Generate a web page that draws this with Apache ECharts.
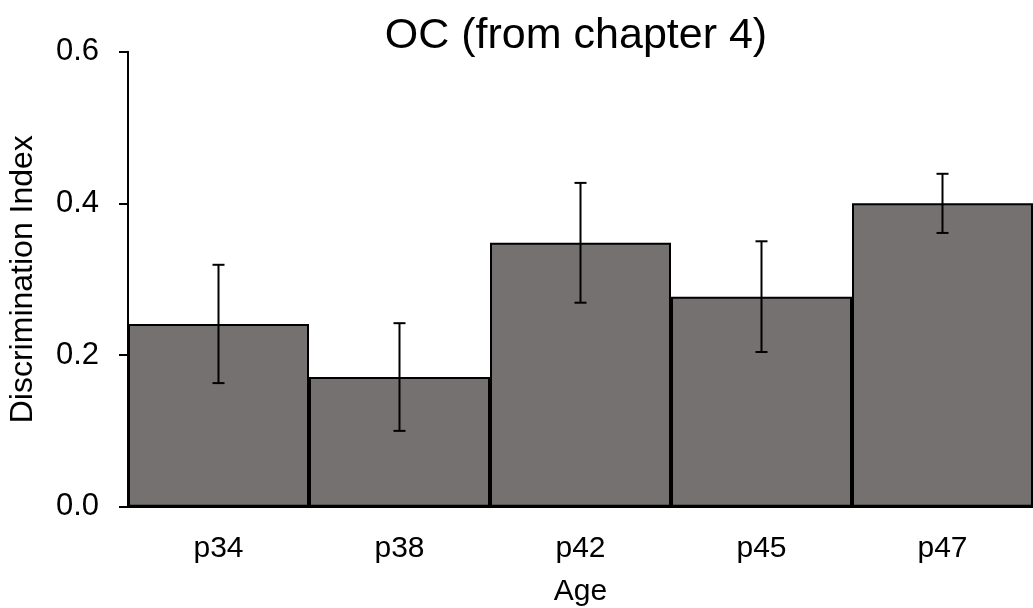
<!DOCTYPE html>
<html>
<head>
<meta charset="utf-8">
<script src="https://cdn.jsdelivr.net/npm/echarts@6/dist/echarts.min.js"></script>
<style>
  html, body { margin: 0; padding: 0; background: #ffffff; }
  #chart { width: 1033px; height: 608px; }
</style>
</head>
<body>
<div id="chart"></div>
<script>
// Discrimination index by age, with standard errors
const ages = ['p34', 'p38', 'p42', 'p45', 'p47'];
const meanIndex = [0.241, 0.171, 0.348, 0.277, 0.400];
const stdError = [0.078, 0.071, 0.079, 0.073, 0.039];
const yTicks = [0, 0.2, 0.4, 0.6];

const FONT = '"Liberation Sans", Arial, sans-serif';

const errorData = ages.map((a, i) => [i, meanIndex[i] - stdError[i], meanIndex[i] + stdError[i]]);

const chart = echarts.init(document.getElementById('chart'), null, { renderer: 'canvas' });

chart.setOption({
  animation: false,
  backgroundColor: '#ffffff',
  title: {
    text: 'OC (from chapter 4)',
    left: 571,
    textAlign: 'center',
    top: 10,
    textStyle: { fontFamily: FONT, fontSize: 43, fontWeight: 'normal', color: '#000000' }
  },
  grid: {
    left: 128, right: 0, top: 51.7, bottom: 101.3,
    containLabel: false,
    outerBoundsMode: 'none'
  },
  xAxis: {
    type: 'category',
    data: ages,
    name: 'Age',
    nameLocation: 'middle',
    nameGap: 70,
    nameTextStyle: { fontFamily: FONT, fontSize: 30, color: '#000000' },
    axisLine: { show: true, lineStyle: { color: '#000000', width: 2 } },
    axisTick: { show: false },
    axisLabel: { fontFamily: FONT, fontSize: 30, color: '#000000', margin: 27 },
    splitLine: { show: false }
  },
  yAxis: {
    type: 'value',
    min: 0,
    max: 0.6,
    interval: 0.2,
    name: 'Discrimination Index',
    nameLocation: 'middle',
    nameGap: 89,
    nameTextStyle: { fontFamily: FONT, fontSize: 32, color: '#000000' },
    axisLine: { show: true, lineStyle: { color: '#000000', width: 2 } },
    axisTick: { show: true, length: 9, lineStyle: { color: '#000000', width: 2 } },
    axisLabel: {
      fontFamily: FONT, fontSize: 31, color: '#000000', margin: 29,
      formatter: v => yTicks.some(t => Math.abs(t - v) < 1e-9) ? v.toFixed(1) : ''
    },
    splitLine: { show: false }
  },
  series: [
    {
      type: 'bar',
      data: meanIndex,
      barCategoryGap: '0%',
      itemStyle: { color: '#757170', borderColor: '#000000', borderWidth: 2 },
      z: 2
    },
    {
      type: 'custom',
      data: errorData,
      z: 3,
      renderItem: function (params, api) {
        const x = api.value(0);
        const lo = api.coord([x, api.value(1)]);
        const hi = api.coord([x, api.value(2)]);
        const half = 6;
        const style = { stroke: '#000000', lineWidth: 2 };
        return {
          type: 'group',
          children: [
            { type: 'line', shape: { x1: lo[0], y1: lo[1], x2: hi[0], y2: hi[1] }, style },
            { type: 'line', shape: { x1: lo[0] - half, y1: lo[1], x2: lo[0] + half, y2: lo[1] }, style },
            { type: 'line', shape: { x1: hi[0] - half, y1: hi[1], x2: hi[0] + half, y2: hi[1] }, style }
          ]
        };
      }
    }
  ]
});
</script>
</body>
</html>
